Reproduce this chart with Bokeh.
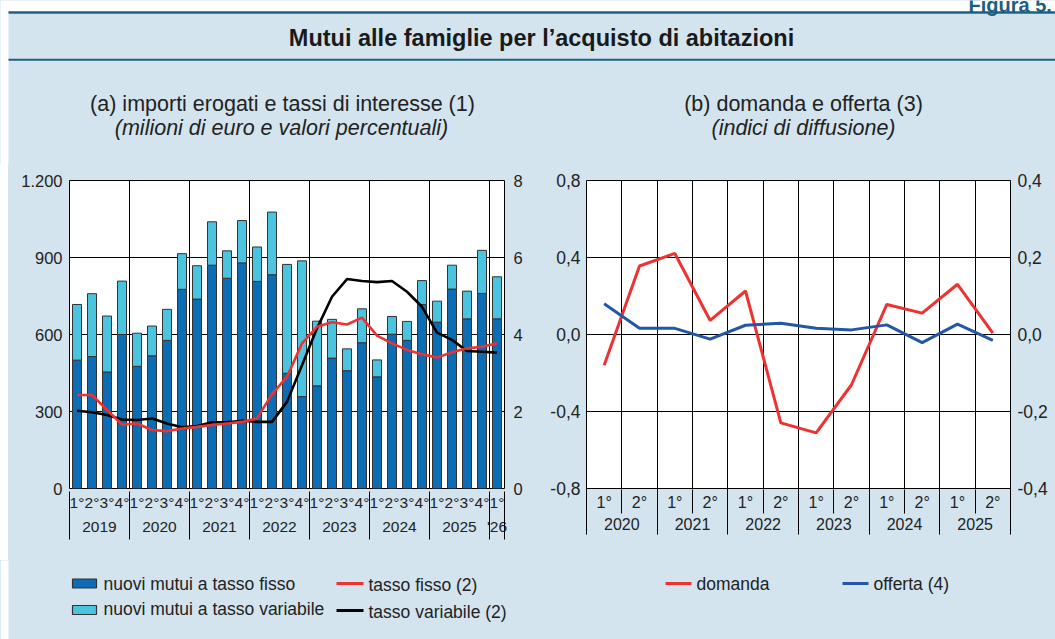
from bokeh.plotting import figure
from bokeh.models import Range1d, LinearAxis, FixedTicker, ColumnDataSource, Grid, AllLabels, Spacer
from bokeh.layouts import column, row
from bokeh.embed import file_html
from bokeh.resources import INLINE
from bokeh.core.properties import value

# ---------------- data ----------------
# panel (a): quarters 2019Q1 .. 2026Q1
quarter_labels = ["1°", "2°", "3°", "4°"] * 7 + ["1°"]
year_labels_a = ["2019", "2020", "2021", "2022", "2023", "2024", "2025", "'26"]
quarters_per_year_a = [4, 4, 4, 4, 4, 4, 4, 1]
mutui_fisso = [500, 514, 454, 600, 476, 517, 577, 776, 738, 870, 819, 879,
               807, 833, 449, 358, 400, 508, 459, 568, 435, 601, 577, 717,
               648, 777, 661, 760, 661]
mutui_variabile = [217, 245, 218, 208, 129, 116, 121, 139, 130, 169, 107, 165,
                   134, 244, 424, 529, 252, 151, 85, 132, 66, 69, 74, 93,
                   82, 93, 108, 168, 164]
tasso_fisso = [2.43, 2.43, 2.04, 1.66, 1.69, 1.52, 1.49, 1.56, 1.60, 1.65, 1.69, 1.73,
               1.82, 2.45, 2.90, 3.77, 4.20, 4.32, 4.26, 4.44, 3.97, 3.77, 3.60, 3.49,
               3.40, 3.54, 3.64, 3.68, 3.77]
tasso_variabile = [2.02, 1.98, 1.91, 1.79, 1.78, 1.82, 1.69, 1.59, 1.62, 1.72, 1.72, 1.76,
                   1.73, 1.73, 2.25, 3.20, 4.16, 4.98, 5.44, 5.39, 5.36, 5.39, 5.11, 4.72,
                   4.05, 3.86, 3.57, 3.55, 3.53]
amount_ticks = [0, 300, 600, 900, 1200]
amount_tick_labels = ["0", "300", "600", "900", "1.200"]
rate_ticks = [0, 2, 4, 6, 8]
rate_tick_labels = ["0", "2", "4", "6", "8"]

# panel (b): half-years 2020H1 .. 2025H2
half_labels = ["1°", "2°"] * 6
year_labels_b = ["2020", "2021", "2022", "2023", "2024", "2025"]
halves_per_year_b = [2, 2, 2, 2, 2, 2]
domanda = [-0.16, 0.356, 0.421, 0.073, 0.226, -0.459, -0.511, -0.261, 0.156, 0.111, 0.261, 0.007]
offerta = [0.080, 0.016, 0.016, -0.012, 0.024, 0.029, 0.016, 0.012, 0.025, -0.021, 0.027, -0.015]
dom_ticks = [-0.8, -0.4, 0, 0.4, 0.8]
dom_tick_labels = ["-0,8", "-0,4", "0,0", "0,4", "0,8"]
off_ticks = [-0.4, -0.2, 0, 0.2, 0.4]
off_tick_labels = ["-0,4", "-0,2", "0,0", "0,2", "0,4"]

# ---------------- style ----------------
FONT = "Liberation Sans"
PANEL = "#d3e4ee"
RULE = "#1c5f82"
DARK = "#0d6db4"
LIGHT = "#4bc4e0"
RED = "#ee3232"
BLUE = "#2257a5"
TXT = "#222222"

W = 1055
HEAD_H = 165
CHART_H = 395
LEG_H = 79


def k(v):
    return int(v) if float(v).is_integer() else v


def overrides(ticks, labels):
    return {k(t): l for t, l in zip(ticks, labels)}


def group_positions(counts):
    centers, bounds, s = [], [0], 0
    for c in counts:
        centers.append(s + c / 2)
        s += c
        bounds.append(s)
    return centers, bounds


def base_fig(w, h, xr, yr, bl, br, bt, bb):
    return figure(width=w, height=h, x_range=xr, y_range=yr, output_backend="svg",
                  toolbar_location=None, x_axis_type=None, y_axis_type=None,
                  min_border_left=bl, min_border_right=br, min_border_top=bt,
                  min_border_bottom=bb, background_fill_color="white",
                  border_fill_color=PANEL, outline_line_color="black", outline_line_width=1)


def y_axis(ticks, labels, size, standoff, rng=None):
    kw = dict(ticker=FixedTicker(ticks=ticks), major_label_overrides=overrides(ticks, labels),
              major_tick_out=0, major_tick_in=0, minor_tick_out=0, minor_tick_in=0,
              axis_line_color=None, major_label_standoff=standoff,
              major_label_text_font=FONT, major_label_text_font_size=size,
              major_label_text_color=TXT, major_label_policy=AllLabels())
    if rng:
        kw["y_range_name"] = rng
    return LinearAxis(**kw)


def x_axis(ticks, labels, size, standoff):
    return LinearAxis(ticker=FixedTicker(ticks=ticks),
                      major_label_overrides=overrides(ticks, labels),
                      major_tick_out=0, major_tick_in=0, minor_tick_out=0, minor_tick_in=0,
                      axis_line_color=None, major_label_standoff=standoff,
                      major_label_text_font=FONT, major_label_text_font_size=size,
                      major_label_text_color=TXT, major_label_policy=AllLabels())


def sep_axis(bounds, t_in, t_out=2):
    # axis carrying only (minor) separator ticks that reach up to the plot frame
    return LinearAxis(ticker=FixedTicker(ticks=[], minor_ticks=bounds),
                      major_tick_out=0, major_tick_in=0,
                      minor_tick_in=t_in, minor_tick_out=t_out,
                      minor_tick_line_color="black", minor_tick_line_width=1,
                      axis_line_color=None, major_label_text_font_size="0px",
                      major_label_standoff=0)


# ---------------- header ----------------
head = figure(width=W, height=HEAD_H, x_range=Range1d(0, W), y_range=Range1d(HEAD_H, 0),
              output_backend="svg", toolbar_location=None, x_axis_type=None, y_axis_type=None,
              min_border=0, outline_line_color=None, background_fill_color="white",
              border_fill_color="white")
head.quad(left=8, right=W, top=13.3, bottom=HEAD_H + 1, fill_color=PANEL, line_color=None)
head.quad(left=8, right=W, top=10.7, bottom=13.3, fill_color=RULE, line_color=None)
head.quad(left=8, right=W, top=58.3, bottom=60.3, fill_color=RULE, line_color=None)
head.text(x=[968], y=[4], text=["Figura 5."], text_font=value(FONT), text_font_size="20px",
          text_font_style="bold", text_color=RULE, text_align="left", text_baseline="alphabetic")
head.text(x=[541], y=[37], text=["Mutui alle famiglie per l’acquisto di abitazioni"],
          text_font=value(FONT), text_font_size="23.5px", text_font_style="bold",
          text_color="#1a1a1a", text_align="center", text_baseline="middle")
head.text(x=[282, 803], y=[103, 103],
          text=["(a) importi erogati e tassi di interesse (1)", "(b) domanda e offerta (3)"],
          text_font=value(FONT), text_font_size="21.5px", text_color=TXT,
          text_align="center", text_baseline="middle")
head.text(x=[281, 803], y=[127, 127],
          text=["(milioni di euro e valori percentuali)", "(indici di diffusione)"],
          text_font=value(FONT), text_font_size="21.5px", text_font_style="italic",
          text_color=TXT, text_align="center", text_baseline="middle")

# ---------------- panel (a) ----------------
nq = len(quarter_labels)
xq = [i + 0.5 for i in range(nq)]
yc_a, yb_a = group_positions(quarters_per_year_a)

pa = base_fig(530, CHART_H, Range1d(0, nq), Range1d(0, 1200), 61, 34, 15, 72)
pa.extra_y_ranges = {"rate": Range1d(0, 8)}
pa.add_layout(Grid(dimension=1, ticker=FixedTicker(ticks=amount_ticks), grid_line_color="black"))
pa.add_layout(Grid(dimension=0, ticker=FixedTicker(ticks=yb_a), grid_line_color="black"))
pa.add_layout(y_axis(amount_ticks, amount_tick_labels, "16.5px", 7), "left")
pa.add_layout(y_axis(rate_ticks, rate_tick_labels, "16.5px", 9, "rate"), "right")
pa.add_layout(x_axis(xq, quarter_labels, "15.5px", 5), "below")
pa.add_layout(x_axis(yc_a, year_labels_a, "15.5px", 4), "below")
pa.add_layout(sep_axis(yb_a, 46), "below")

src_a = ColumnDataSource(dict(x=xq, fisso=mutui_fisso, variabile=mutui_variabile,
                              tf=tasso_fisso, tv=tasso_variabile))
pa.vbar_stack(["fisso", "variabile"], x="x", width=0.6, source=src_a,
              fill_color=[DARK, LIGHT], line_color="#333333", line_width=1)
pa.line("x", "tv", source=src_a, y_range_name="rate", line_color="black", line_width=2.6)
pa.line("x", "tf", source=src_a, y_range_name="rate", line_color=RED, line_width=2.6)

# ---------------- panel (b) ----------------
nh = len(half_labels)
xh = [i + 0.5 for i in range(nh)]
yc_b, yb_b = group_positions(halves_per_year_b)
mid_b = [b for b in range(nh + 1) if b not in yb_b]

pb = base_fig(517, CHART_H, Range1d(0, nh), Range1d(-0.8, 0.8), 48, 45, 15, 72)
pb.extra_y_ranges = {"off": Range1d(-0.4, 0.4)}
pb.add_layout(Grid(dimension=1, ticker=FixedTicker(ticks=dom_ticks), grid_line_color="black"))
pb.add_layout(Grid(dimension=0, ticker=FixedTicker(ticks=list(range(nh + 1))), grid_line_color="black"))
pb.add_layout(y_axis(dom_ticks, dom_tick_labels, "17.5px", 6), "left")
pb.add_layout(y_axis(off_ticks, off_tick_labels, "17.5px", 7, "off"), "right")
pb.add_layout(x_axis(xh, half_labels, "16px", 5), "below")
pb.add_layout(sep_axis(mid_b, 24, 0), "below")
pb.add_layout(x_axis(yc_b, year_labels_b, "16px", 4), "below")
pb.add_layout(sep_axis(yb_b, 46), "below")

src_b = ColumnDataSource(dict(x=xh, dom=domanda, off=offerta))
pb.line("x", "dom", source=src_b, line_color=RED, line_width=3)
pb.line("x", "off", source=src_b, y_range_name="off", line_color=BLUE, line_width=3)

# ---------------- legends ----------------
leg = figure(width=W, height=LEG_H, x_range=Range1d(0, W), y_range=Range1d(639, 560),
             output_backend="svg", toolbar_location=None, x_axis_type=None, y_axis_type=None,
             min_border=0, outline_line_color=None, background_fill_color=PANEL,
             border_fill_color=PANEL)
leg.quad(left=[0], right=[8], top=[559], bottom=[640], fill_color="white", line_color=None)
leg.quad(left=[72, 72], right=[96, 96], top=[578.5, 605], bottom=[587.5, 614],
         fill_color=[DARK, LIGHT], line_color="#333333", line_width=1.2)
leg.segment(x0=[336, 336, 665, 842], x1=[363, 363, 691, 868], y0=[583, 610, 583, 583],
            y1=[583, 610, 583, 583], line_color=[RED, "black", RED, BLUE], line_width=3)
leg.text(x=[103, 103, 368, 368, 696, 873], y=[583, 608.5, 584.5, 611, 583, 583],
         text=["nuovi mutui a tasso fisso", "nuovi mutui a tasso variabile", "tasso fisso (2)",
               "tasso variabile (2)", "domanda", "offerta (4)"],
         text_font=value(FONT), text_font_size="17.5px", text_color=TXT,
         text_align="left", text_baseline="middle")

margin = Spacer(width=8, height=CHART_H, styles={"background-color": "white"})
layout = column(head, row(margin, pa, pb), leg, styles={"background-color": PANEL})

open("out.html", "w").write(file_html(layout, INLINE))
